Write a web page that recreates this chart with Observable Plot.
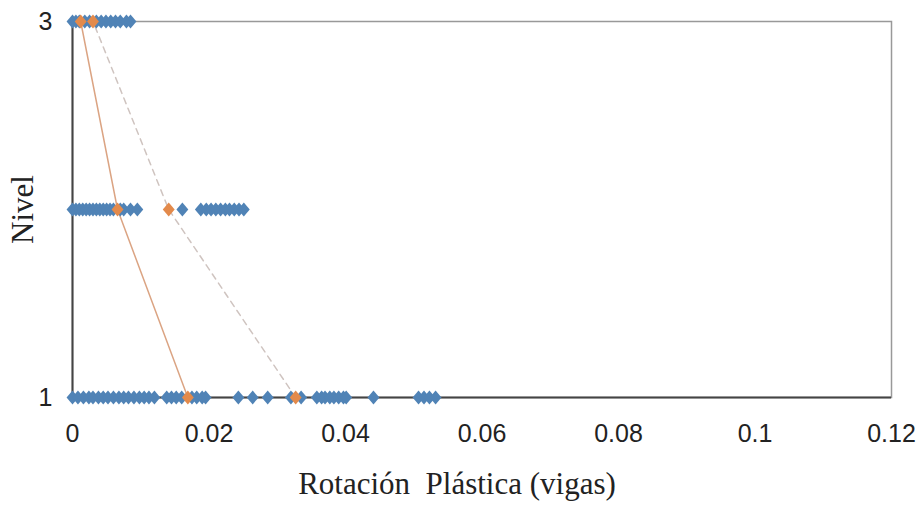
<!DOCTYPE html>
<html>
<head>
<meta charset="utf-8">
<script src="https://cdn.jsdelivr.net/npm/d3@7"></script>
<script src="https://cdn.jsdelivr.net/npm/@observablehq/plot@0.6"></script>
<style>
  html, body { margin: 0; padding: 0; background: #fff; }
  #chart svg { display: block; }
  #chart [aria-label="x-axis label"] text,
  #chart [aria-label="y-axis label"] text { font-family: "Liberation Serif", serif; font-size: 31px; fill: #222; }
</style>
</head>
<body>
<div id="chart"></div>
<script>
// Levels and tick labels
const levels = [1, 2, 3];
const xTicks = [0, 0.02, 0.04, 0.06, 0.08, 0.1, 0.12];
const yTicks = [1, 3];

// Blue points (individual plastic rotations) per level
const level1Blue = [0, 0.0008, 0.0016, 0.0024, 0.003, 0.0038, 0.0045, 0.0052, 0.006, 0.0068, 0.0075, 0.0082, 0.009, 0.0098, 0.0105, 0.0112, 0.012,
  0.0138, 0.0145, 0.0152, 0.016, 0.0175, 0.0182, 0.019, 0.0195,
  0.0243, 0.0264, 0.0286, 0.0320, 0.0335,
  0.0358, 0.0365, 0.037, 0.0377, 0.0383, 0.039, 0.0397, 0.0401,
  0.0441, 0.0507, 0.0515, 0.0523, 0.0532];
const level2Blue = [0, 0.0005, 0.001, 0.0015, 0.002, 0.0025, 0.003, 0.0035, 0.004, 0.0045, 0.005, 0.0055, 0.006, 0.007, 0.0075, 0.0085, 0.0095,
  0.0161, 0.0188, 0.0196, 0.0203, 0.021, 0.0217, 0.0224, 0.023, 0.0237, 0.0244, 0.0251];
const level3Blue = [0, 0.0005, 0.001, 0.0018, 0.0025, 0.0035, 0.0042, 0.0049, 0.0056, 0.0063, 0.007, 0.0079, 0.0085];

// Orange summary points: solid line series and dashed line series
const solidSeries = [0.0169, 0.0066, 0.0012];   // levels 1, 2, 3
const dashedSeries = [0.0327, 0.0141, 0.0030];  // levels 1, 2, 3

const blueData = [
  ...level1Blue.map(v => ({x: v, y: 1})),
  ...level2Blue.map(v => ({x: v, y: 2})),
  ...level3Blue.map(v => ({x: v, y: 3}))
];
const solidData = levels.map((l, i) => ({x: solidSeries[i], y: l}));
const dashedData = levels.map((l, i) => ({x: dashedSeries[i], y: l}));
const orangeData = [...solidData, ...dashedData];

const diamond = {
  draw(ctx, size) {
    const a = Math.sqrt(size / Math.PI);
    const w = a * 1.12, h = a * 1.3;
    ctx.moveTo(0, -h); ctx.lineTo(w, 0); ctx.lineTo(0, h); ctx.lineTo(-w, 0); ctx.closePath();
  }
};

const chart = Plot.plot({
  width: 922,
  height: 506,
  marginLeft: 72,
  marginRight: 31,
  marginTop: 21,
  marginBottom: 109,
  style: {fontFamily: "'Liberation Sans', Arial, sans-serif", fontSize: "25px", color: "#222", background: "#fff"},
  x: {domain: [0, 0.12], ticks: xTicks, tickFormat: d => String(+d.toFixed(2)), tickSize: 0, tickPadding: 27,
      label: "Rotación\u00a0 Plástica (vigas)", labelAnchor: "center", labelOffset: 96, labelArrow: "none"},
  y: {domain: [1, 3], ticks: yTicks, tickFormat: d => String(d), tickSize: 0, tickPadding: 20,
      label: "Nivel", labelAnchor: "center", labelOffset: 62, labelArrow: "none"},
  marks: [
    Plot.frame({stroke: "#999", strokeWidth: 1.5}),
    Plot.ruleX([0], {stroke: "#444", strokeWidth: 2}),
    Plot.ruleY([1], {stroke: "#444", strokeWidth: 2}),
    Plot.line(solidData, {x: "x", y: "y", stroke: "#dba483", strokeWidth: 1.5}),
    Plot.line(dashedData, {x: "x", y: "y", stroke: "#cfc4c0", strokeWidth: 1.5, strokeDasharray: "6,5"}),
    Plot.dot(blueData, {x: "x", y: "y", symbol: diamond, r: 5.3, fill: "#5083b6", stroke: "none"}),
    Plot.dot(orangeData, {x: "x", y: "y", symbol: diamond, r: 5.3, fill: "#e38a4b", stroke: "none"})
  ]
});
// Remove any direction arrows that the library may add to axis labels
d3.select(chart).selectAll('[aria-label="x-axis label"] text, [aria-label="y-axis label"] text')
  .each(function() {
    const t = this.textContent.replace(/\s*[→↑←↓]\s*/g, "");
    if (t !== this.textContent) this.textContent = t;
  });
// The reference's x label sits a little left of the plot centre
d3.select(chart).selectAll('[aria-label="x-axis label"] text').attr("dx", -25);
document.getElementById("chart").appendChild(chart);
</script>
</body>
</html>
